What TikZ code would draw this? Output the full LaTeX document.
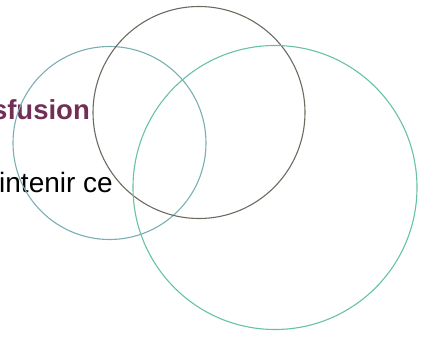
\documentclass[tikz,border=0pt]{standalone}
\usepackage{fontspec}
\setmainfont{Liberation Sans}
\definecolor{ringblue}{HTML}{7AAFB2}
\definecolor{ringgray}{HTML}{6B6A60}
\definecolor{ringgreen}{HTML}{66C2A6}
\definecolor{titleplum}{HTML}{722F55}
\tikzset{
  ring/.style={line width=1.1pt},
  cuttext/.style={inner sep=0pt, anchor=base east}
}
\begin{document}
\begin{tikzpicture}[x=1pt, y=-1pt]

  % Frame
  \useasboundingbox (0,0) rectangle (426,337);
  \clip (0,0) rectangle (426,337);

  % Centres
  \coordinate (L) at (109.5,143);
  \coordinate (M) at (199,112.5);
  \coordinate (R) at (275,187.5);

  % Text cut at the left edge
  \node[cuttext, text=titleplum, font=\bfseries\fontsize{27.5}{32}\selectfont] (title) at (90,120) {sfusion};
  \node[cuttext, font=\fontsize{28}{33}\selectfont] (body) at (113,192) {intenir ce};

  % Circles
  \draw[ring, ringblue] (L) circle (96.5);
  \draw[ring, ringgray] (M) circle (106);
  \draw[ring, ringgreen] (R) circle (142);
\end{tikzpicture}
\end{document}
